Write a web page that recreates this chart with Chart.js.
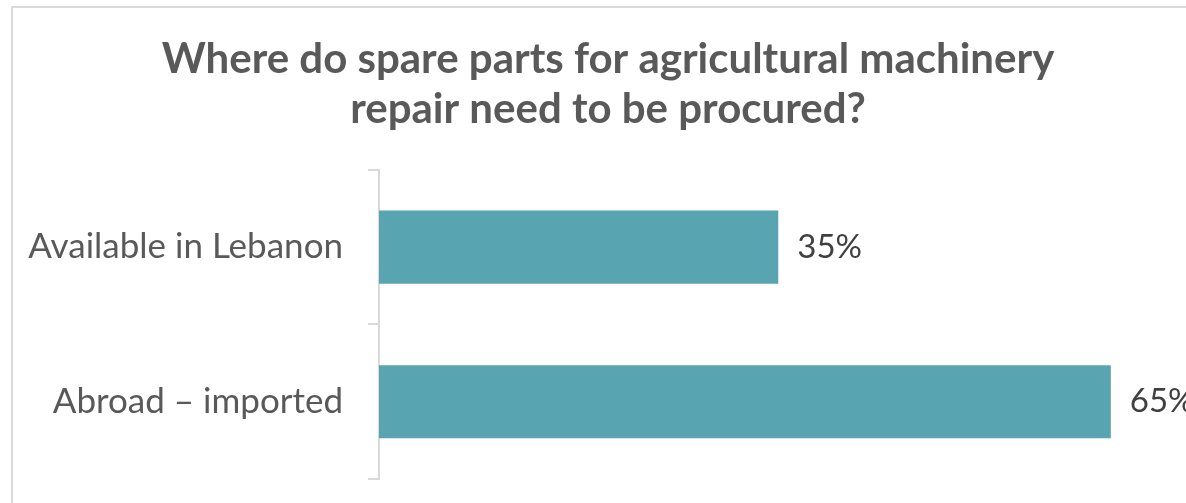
<!DOCTYPE html>
<html>
<head>
<meta charset="utf-8">
<script src="https://cdn.jsdelivr.net/npm/chart.js@4"></script>
<style>
  html, body { margin: 0; padding: 0; background: #fff; overflow: hidden; }
  #frame { position: absolute; left: 11px; top: 6px; width: 1300px; height: 600px; border: 2px solid #d9d9d9; }
  #wrap { position: absolute; left: 0; top: 0; width: 1216px; height: 503px; }
</style>
</head>
<body>
<div id="frame"></div>
<div id="wrap"><canvas id="chart"></canvas></div>
<script>
// categories and values
const categories = ["Available in Lebanon", "Abroad \u2013 imported"];
const shares = [35.3, 64.7];
const titleLines = ["Where do spare parts for agricultural machinery", "repair need to be procured?"];

const FONT = "Lato, 'Open Sans', sans-serif";

// percentage next to each bar
const valueLabels = {
  id: "valueLabels",
  afterDatasetsDraw(chart) {
    const ctx = chart.ctx;
    const meta = chart.getDatasetMeta(0);
    ctx.save();
    ctx.font = "33px " + FONT;
    ctx.fillStyle = "#404040";
    ctx.textAlign = "left";
    ctx.textBaseline = "middle";
    meta.data.forEach(function (bar, i) {
      ctx.fillText(Math.round(shares[i]) + "%", bar.x + 19, bar.y);
    });
    ctx.restore();
  }
};

new Chart(document.getElementById("chart"), {
  type: "bar",
  data: {
    labels: categories,
    datasets: [{
      data: shares,
      backgroundColor: "#58a4b0",
      borderWidth: 0,
      categoryPercentage: 1,
      barPercentage: 0.473
    }]
  },
  options: {
    indexAxis: "y",
    responsive: true,
    maintainAspectRatio: false,
    animation: false,
    layout: { padding: { left: 0, right: 0, top: 0, bottom: 24 } },
    plugins: {
      legend: { display: false },
      tooltip: { enabled: false },
      title: {
        display: true,
        text: titleLines,
        color: "#595959",
        font: { family: FONT, size: 42, weight: "bold", lineHeight: 1.2 },
        padding: { top: 34, bottom: 35 }
      }
    },
    scales: {
      x: { display: false, min: 0, max: 74 },
      y: {
        afterFit(scale) {
          scale.width = 379;
          scale.paddingTop = 0;
          scale.paddingBottom = 0;
        },
        grid: { drawOnChartArea: false, drawTicks: true, tickLength: 11, color: "#d9d9d9", lineWidth: 2 },
        border: { display: true, color: "#d9d9d9", width: 2 },
        ticks: { color: "#595959", padding: 25, font: { family: FONT, size: 35 } }
      }
    }
  },
  plugins: [valueLabels]
});
</script>
</body>
</html>
